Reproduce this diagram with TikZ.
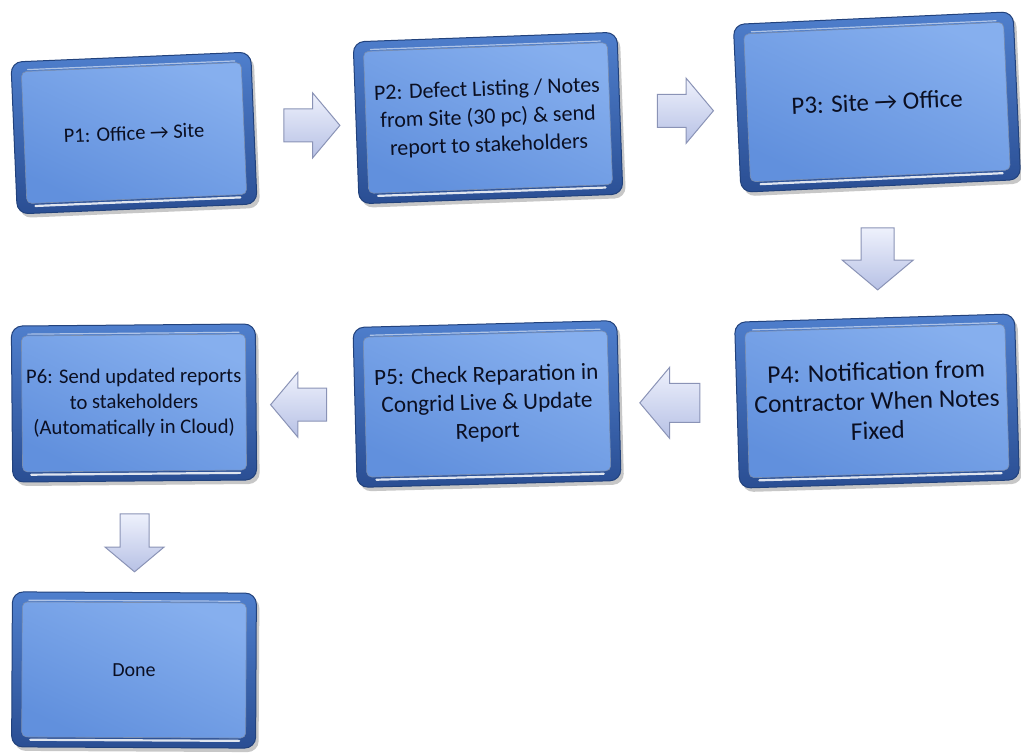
\documentclass[tikz,border=0pt]{standalone}
\usepackage{fontspec}
\setmainfont{Carlito}
\usetikzlibrary{calc,shapes.arrows,shadows}

\definecolor{frametop}{HTML}{4F7FCD}
\definecolor{framebot}{HTML}{2A4E93}
\definecolor{framerim}{HTML}{22427C}
\definecolor{facelight}{HTML}{86AFEE}
\definecolor{facedark}{HTML}{6190DD}
\definecolor{arrowlight}{HTML}{EEF1FC}
\definecolor{arrowdark}{HTML}{B7C1E5}
\definecolor{arrowrim}{HTML}{8A93B6}
\definecolor{inktext}{HTML}{0B0F22}

\tikzset{
  cardframe/.style={rectangle, rounded corners=11pt, draw=framerim, line width=1pt,
    top color=frametop, bottom color=framebot,
    drop shadow={shadow xshift=3pt, shadow yshift=-4pt, opacity=0.22, fill=black}},
  cardface/.style={rectangle, rounded corners=5pt, draw=framerim!60, line width=0.6pt,
    top color=facelight, bottom color=facedark, shading angle=-25,
    text=inktext, align=center, inner sep=2pt},
  cardshine/.style={white, line cap=round},
  blockarrow/.style={single arrow, draw=arrowrim, line width=1pt,
    top color=arrowlight, bottom color=arrowdark,
    inner xsep=8pt, inner ysep=16pt, single arrow head extend=16pt,
    single arrow tip angle=100, minimum height=56pt, minimum width=64pt},
}

% #1 name, #2 centre, #3 tilt, #4 width, #5 height, #6 font size, #7 leading, #8 text
\newcommand{\stepcard}[8]{%
  \node[cardframe, rotate=#3, minimum width=#4pt, minimum height=#5pt] (#1) at (#2) {};
  \node[cardface, rotate=#3, minimum width=#4pt-20pt, minimum height=#5pt-20pt,
    font=\fontsize{#6}{#7}\selectfont] (#1-face) at (#1.center) {#8};
  \draw[cardshine, opacity=0.55, line width=1.2pt]
    ($(#1-face.north west)!0.03!(#1-face.north east)+(0,-1.5)$) --
    ($(#1-face.north west)!0.97!(#1-face.north east)+(0,-1.5)$);
  \draw[cardshine, opacity=0.85, line width=2.2pt]
    ($(#1-face.south west)!0.04!(#1-face.south east)+(0,2.5)$) --
    ($(#1-face.south west)!0.97!(#1-face.south east)+(0,2.5)$);
}

\begin{document}
\begin{tikzpicture}[x=1pt,y=-1pt]
  \useasboundingbox (0,0) rectangle (1021,755);

  \stepcard{p1}{134,133}{2.4}{240}{152}{20.5}{24}{P1: Office → Site}
  \stepcard{p2}{488,118}{2.1}{264}{162}{22}{28}{P2: Defect Listing / Notes\\from Site (30 pc) \& send\\report to stakeholders}
  \stepcard{p3}{877,102}{2.6}{280}{168}{25}{28}{P3: Site → Office}
  \stepcard{p4}{877,401}{1.7}{280}{166}{25.5}{29.5}{P4: Notification from\\Contractor When Notes\\Fixed}
  \stepcard{p5}{487,404}{1.5}{264}{160}{23.2}{28}{P5: Check Reparation in\\Congrid Live \& Update\\Report}
  \stepcard{p6}{134,403}{0.5}{244}{156}{20.7}{25.5}{P6: Send updated reports\\to stakeholders\\(Automatically in Cloud)}
  \stepcard{done}{134,670}{-0.3}{244}{155}{20}{24}{Done}

  \node[blockarrow] (a12) at ($(p1.east)!0.5!(p2.west)$) {};
  \node[blockarrow] (a23) at ($(p2.east)!0.5!(p3.west)$) {};
  \node[blockarrow, rotate=-90, minimum height=62pt, minimum width=70pt, single arrow head extend=19pt] (a34) at ($(p3.south)!0.5!(p4.north)$) {};
  \node[blockarrow, rotate=180, minimum height=60pt, minimum width=70pt, inner ysep=19pt] (a45) at ($(p4.west)!0.5!(p5.east)$) {};
  \node[blockarrow, rotate=180] (a56) at ($(p5.west)!0.5!(p6.east)$) {};
  \node[blockarrow, rotate=-90, minimum height=58pt, minimum width=58pt, inner ysep=14pt, single arrow head extend=15pt] (a6d) at ($(p6.south)!0.5!(done.north)$) {};
\end{tikzpicture}
\end{document}
